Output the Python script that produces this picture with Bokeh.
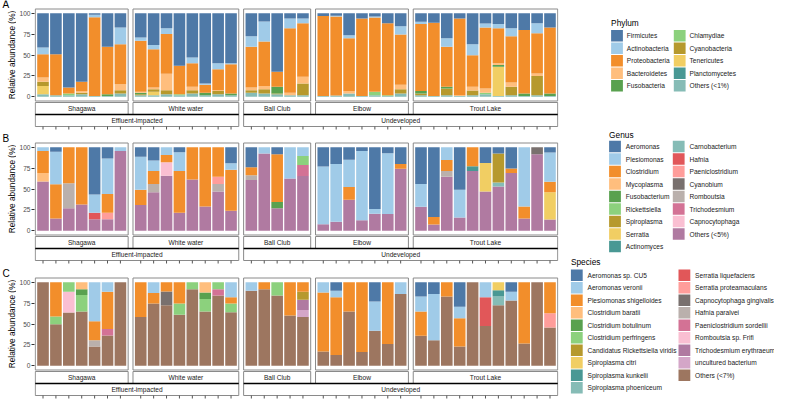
import math
from bokeh.plotting import figure
from bokeh.models import ColumnDataSource, Range1d, FixedTicker
from bokeh.layouts import row, column
from bokeh.core.properties import value
from bokeh.embed import file_html
from bokeh.resources import INLINE

FONT = "Liberation Sans"

# ---------------- facets ----------------
sites = ["Shagawa", "White water", "Ball Club", "Elbow", "Trout Lake"]
site_n = [7, 8, 5, 7, 11]
site_group = [0, 0, 1, 1, 1]
groups = ["Effluent-impacted", "Undeveloped"]

# sample order: Shagawa(7) | White water(8) | Ball Club(5) | Elbow(7) | Trout Lake(11)

# ---------------- Phylum (%) ----------------
ph_firmicutes = [41, 49, 89, 82, 2, 40, 17,
                 29, 38, 18, 63, 53, 84, 60, 60,
                 27.5, 10, 70, 6.5, 6.5,
                 3.5, 3, 26.3, 6.5, 4, 12, 15.5,
                 10.3, 11.5, 30, 6.5, 37, 12.2, 13, 18, 20, 12, 17]
ph_actinobacteria = [8, 0, 0, 0, 3, 0, 20,
                     4, 5, 7, 0, 7, 1.5, 7, 1,
                     12.5, 24, 0, 11.5, 5.5,
                     0, 1, 3.7, 0, 1.3, 0, 10,
                     2.7, 0, 10, 0, 13.4, 5, 5, 9.5, 0, 12, 0]
ph_proteobacteria = [28, 49, 7, 11, 94, 57, 48,
                     61, 46, 47.5, 34, 28, 9.5, 25, 35,
                     49, 53, 18, 77, 64,
                     95.5, 94.5, 63, 92.5, 88.7, 86, 60,
                     80, 87.5, 48, 91.5, 37.6, 72.8, 42, 55.5, 76, 48, 79]
ph_bacteroidetes = [5, 0, 0, 2, 0, 0, 7,
                    1, 2, 19.5, 0, 4, 0, 1, 0,
                    3, 4, 0, 3, 8,
                    0, 0, 3, 0, 0, 0, 5.5,
                    0, 0, 0, 1, 4.4, 5, 2, 5, 0, 3, 0]
ph_fusobacteria = [0, 0, 0, 0, 0, 2, 0,
                   2, 0, 0, 0, 0, 3, 0, 2,
                   0, 0, 8, 0, 0,
                   0, 0, 0, 0, 0, 0, 0,
                   3, 0, 2, 0, 0, 0, 2, 0, 3, 0, 3]
ph_chlamydiae = [0, 0, 2, 0, 0, 0, 0,
                 0, 0, 0, 1, 0, 0, 0, 0,
                 0, 0, 0, 0, 0,
                 0, 0, 0, 0, 4, 1, 0,
                 0, 0, 0, 0, 0, 2, 0, 0, 0, 0, 0]
ph_cyanobacteria = [5, 0, 0, 2, 0, 0, 4,
                    1, 3, 5, 0, 4, 0, 4, 0,
                    3, 5, 1, 0, 14,
                    0, 0, 0, 0, 0, 0, 5,
                    2, 0, 8, 0, 5.6, 0, 0, 10, 0, 23, 0]
ph_tenericutes = [10, 0, 0, 0, 0, 0, 0,
                  0, 4, 0, 0, 0, 0, 0, 0,
                  0, 0, 0, 0, 0,
                  0, 0, 0, 0, 0, 0, 0,
                  0, 0, 0, 0, 0, 0, 35, 0, 0, 0, 0]
ph_planctomycetes = [0, 0, 0, 0, 0, 0, 0,
                     0, 0, 0, 0, 0, 0, 0, 0,
                     0, 0, 0, 0, 0,
                     0, 0, 0, 0, 0, 0, 0,
                     0, 0, 0, 0, 0, 0, 0, 0, 0, 0, 0]
ph_others = [3, 2, 2, 3, 1, 1, 4,
             2, 2, 3, 2, 4, 2, 3, 2,
             5, 4, 3, 2, 2,
             1, 1.5, 4, 1, 2, 1, 4,
             2, 1, 2, 1, 2, 3, 1, 2, 1, 2, 1]

# ---------------- Genus (%) ----------------
ge_aeromonas = [0, 5.4, 0, 0, 56.5, 13.5, 0,
                11.5, 16, 0, 6, 0, 0, 0, 19.2,
                24, 0, 8.5, 0, 0,
                23, 20, 15, 4.6, 73.8, 7.3, 20,
                44, 83.5, 0, 51, 0, 19, 7.7, 25.4, 0, 0, 6.5]
ge_plesiomonas = [4.5, 38.8, 0, 0, 22, 42.5, 4.6,
                  39.5, 12.5, 9.2, 22.5, 0, 0, 0, 7.8,
                  0, 7.7, 0, 37.3, 10.4,
                  69, 69.2, 32.7, 82.7, 5.8, 72.7, 0,
                  27.2, 0, 15.4, 33, 0, 0, 0, 0, 70.8, 0, 34.7]
ge_clostridium = [26.5, 41.2, 43, 68.5, 0, 22.5, 0,
                  18, 15.5, 8.8, 50, 38.5, 71, 35.4, 49,
                  9.5, 0, 56.9, 0, 0,
                  0, 0, 15.3, 0, 0, 0, 5.8,
                  0, 8.8, 13.1, 0, 22.7, 0, 0, 5.6, 14.6, 0, 12.8]
ge_mycoplasma = [10, 0, 0, 0, 0, 0, 0,
                 0, 0, 0, 0, 0, 0, 0, 0,
                 0, 0, 0, 0, 0,
                 0, 0, 0, 0, 0, 0, 0,
                 0, 0, 0, 0, 0, 0, 0, 0, 0, 0, 0]
ge_fusobacterium = [0, 0, 0, 0, 0, 0, 0,
                    0, 0, 0, 0, 0, 0, 0, 0,
                    0, 0, 7.6, 0, 0,
                    0, 0, 0, 0, 0, 0, 0,
                    0, 0, 0, 0, 0, 0, 0, 0, 0, 0, 0]
ge_rickettsiella = [0, 0, 0, 0, 0, 0, 0,
                    0, 0, 0, 0, 0, 0, 0, 0,
                    0, 0, 0, 0, 10.8,
                    0, 0, 0, 0, 0, 0, 0,
                    0, 0, 0, 0, 0, 0, 0, 0, 0, 0, 0]
ge_spiroplasma = [0, 0, 0, 0, 0, 0, 0,
                  0, 0, 0, 0, 0, 0, 0, 0,
                  0, 0, 0, 0, 0,
                  0, 0, 0, 0, 0, 0, 0,
                  0, 0, 0, 0, 0, 0, 34.6, 0, 0, 0, 0]
ge_serratia = [0, 0, 0, 0, 0, 0, 0,
               0, 0, 0, 0, 0, 0, 0, 0,
               0, 0, 0, 0, 0,
               0, 0, 0, 0, 0, 0, 0,
               0, 0, 0, 0, 0, 34, 0, 0, 0, 0, 32.5]
ge_actinomyces = [0, 0, 0, 0, 0, 0, 0,
                  0, 0, 0, 0, 0, 0, 0, 0,
                  0, 0, 0, 0, 0,
                  0, 0, 0, 0, 0, 0, 0,
                  0, 0, 0, 0, 5.8, 0, 0, 0, 0, 0, 0]
ge_carnobacterium = [0, 0, 0, 0, 0, 0, 0,
                     0, 0, 0, 0, 0, 0, 0, 0,
                     0, 0, 0, 0, 0,
                     0, 0, 0, 0, 0, 0, 0,
                     0, 0, 0, 0, 0, 0, 4.7, 0, 0, 0, 0]
ge_hafnia = [0, 0, 0, 0, 7.7, 0, 0,
             0, 0, 0, 0, 0, 0, 0, 0,
             0, 0, 0, 0, 0,
             0, 0, 0, 0, 0, 0, 0,
             0, 0, 0, 0, 0, 0, 0, 0, 0, 0, 0]
ge_paeniclostridium = [0, 0, 0, 0, 0, 7.7, 0,
                       0, 0, 0, 0, 0, 0, 8.6, 0,
                       0, 0, 0, 0, 0,
                       0, 0, 0, 0, 0, 0, 0,
                       0, 0, 0, 0, 0, 0, 0, 0, 0, 0, 0]
ge_cyanobium = [0, 0, 0, 0, 0, 0, 0,
                0, 0, 0, 0, 0, 0, 0, 0,
                0, 0, 0, 0, 0,
                0, 0, 0, 0, 0, 0, 0,
                0, 0, 0, 0, 0, 0, 0, 0, 0, 8.5, 0]
ge_romboutsia = [0, 0, 30, 0, 0, 0, 0,
                 0, 10, 0, 0, 0, 0, 9, 0,
                 5.7, 0, 0, 0, 0,
                 0, 0, 0, 0, 0, 0, 0,
                 0, 0, 6.9, 0, 0, 0, 0, 0, 0, 0, 0]
ge_trichodesmium = [0, 0, 0, 0, 0, 0, 0,
                    0, 0, 0, 0, 0, 0, 0, 0,
                    0, 0, 0, 0, 13.4,
                    0, 0, 0, 0, 0, 0, 0,
                    0, 0, 0, 0, 0, 0, 0, 0, 0, 0, 0]
ge_capnocytophaga = [0, 0, 0, 0, 0, 0, 0,
                     0, 0, 16.2, 0, 0, 0, 0, 0,
                     0, 0, 0, 0, 0,
                     0, 0, 0, 0, 0, 0, 0,
                     0, 0, 0, 0, 0, 0, 0, 0, 0, 0, 0]
ge_others = [59, 14.6, 27, 31.5, 13.8, 13.8, 95.4,
             31, 46, 65.8, 21.5, 61.5, 29, 47, 24,
             60.8, 92.3, 27, 62.7, 65.4,
             8, 10.8, 37, 12.7, 20.4, 20, 74.2,
             28.8, 7.7, 64.6, 16, 71.5, 47, 53, 69, 14.6, 91.5, 13.5]

# ---------------- Species (%) ----------------
sp_aeromonas_cu5 = [0, 0, 0, 0, 0, 0, 0,
                    0, 0, 0, 0, 0, 0, 0, 0,
                    0, 0, 0, 0, 0,
                    0, 10.3, 0, 0, 23, 0, 0,
                    17, 14, 0, 29.4, 0, 0, 0, 11.5, 0, 0, 0]
sp_aeromonas_veronii = [0, 0, 0, 0, 46.6, 11.5, 0,
                        0, 13, 0, 0, 0, 0, 0, 18,
                        10.3, 0, 0, 0, 0,
                        12.2, 7.7, 0, 0, 35, 0, 14,
                        18, 55.5, 0, 13.6, 0, 18, 0, 10.5, 0, 0, 0]
sp_plesiomonas = [0, 41, 0, 0, 22.9, 44.6, 0,
                  41.6, 12.6, 11, 25.6, 0, 0, 0, 7.6,
                  0, 8.4, 0, 39.7, 11.5,
                  70.8, 69, 35, 83.6, 0, 74, 0,
                  29, 0, 17, 34, 0, 0, 0, 0, 73.3, 0, 37]
sp_c_baratii = [0, 0, 0, 8.4, 0, 0, 0,
                0, 0, 0, 0, 0, 12.2, 0, 0,
                0, 0, 0, 0, 0,
                0, 0, 0, 0, 0, 0, 0,
                0, 0, 0, 0, 0, 0, 0, 0, 0, 0, 0]
sp_c_botulinum = [0, 0, 0, 6.9, 0, 0, 0,
                  0, 0, 0, 0, 0, 7.8, 0, 0,
                  0, 0, 0, 0, 0,
                  0, 0, 0, 0, 0, 0, 0,
                  0, 0, 0, 0, 0, 0, 0, 0, 0, 0, 0]
sp_c_perfringens = [0, 9.4, 11.5, 19.7, 0, 0, 0,
                    0, 0, 0, 13.4, 8.4, 15, 8.4, 10.4,
                    0, 0, 16, 0, 0,
                    0, 0, 0, 0, 0, 0, 0,
                    0, 0, 0, 0, 0, 0, 0, 0, 0, 0, 0]
sp_rickettsiella = [0, 0, 0, 0, 0, 0, 0,
                    0, 0, 0, 0, 0, 0, 0, 0,
                    0, 0, 0, 0, 9.5,
                    0, 0, 0, 0, 0, 0, 0,
                    0, 0, 0, 0, 0, 0, 0, 0, 0, 0, 0]
sp_s_citri = [0, 0, 0, 0, 0, 0, 0,
              0, 0, 0, 0, 0, 0, 0, 0,
              0, 0, 0, 0, 0,
              0, 0, 0, 0, 0, 0, 0,
              0, 0, 0, 0, 0, 0, 9.5, 0, 0, 0, 0]
sp_s_kunkelii = [0, 0, 0, 0, 0, 0, 0,
                 0, 0, 0, 0, 0, 0, 0, 0,
                 0, 0, 0, 0, 0,
                 0, 0, 0, 0, 0, 0, 0,
                 0, 0, 0, 0, 0, 0, 7.5, 0, 0, 0, 0]
sp_s_phoeniceum = [0, 0, 0, 0, 0, 0, 0,
                   0, 0, 0, 0, 0, 0, 0, 0,
                   0, 0, 0, 0, 0,
                   0, 0, 0, 0, 0, 0, 0,
                   0, 0, 0, 0, 0, 0, 10.5, 0, 0, 0, 0]
sp_s_liquefaciens = [0, 0, 0, 0, 0, 0, 0,
                     0, 0, 0, 0, 0, 0, 0, 0,
                     0, 0, 0, 0, 0,
                     0, 0, 0, 0, 0, 0, 0,
                     0, 0, 0, 0, 0, 34.3, 0, 0, 0, 0, 0]
sp_s_proteamaculans = [0, 0, 0, 0, 0, 0, 0,
                       0, 0, 0, 0, 0, 0, 0, 0,
                       0, 0, 0, 0, 0,
                       0, 0, 0, 0, 0, 0, 0,
                       0, 0, 0, 0, 0, 0, 0, 0, 0, 0, 17.2]
sp_capnocytophaga = [0, 0, 0, 0, 0, 0, 0,
                     0, 0, 16.5, 0, 0, 0, 0, 0,
                     0, 0, 0, 0, 0,
                     0, 0, 0, 0, 0, 0, 0,
                     0, 0, 0, 0, 0, 0, 0, 0, 0, 0, 0]
sp_hafnia = [0, 0, 0, 0, 7.5, 0, 0,
             0, 0, 0, 0, 0, 0, 0, 0,
             0, 0, 0, 0, 0,
             0, 0, 0, 0, 0, 0, 0,
             0, 0, 0, 0, 0, 0, 0, 0, 0, 0, 0]
sp_paeniclostridium = [0, 0, 0, 0, 0, 7.6, 0,
                       0, 0, 0, 0, 0, 0, 7.6, 0,
                       0, 0, 0, 0, 0,
                       0, 0, 0, 0, 0, 0, 0,
                       0, 0, 0, 0, 0, 0, 0, 0, 0, 0, 0]
sp_romboutsia = [0, 0, 24.8, 0, 0, 0, 0,
                 0, 0, 0, 0, 0, 0, 0, 0,
                 0, 0, 0, 0, 0,
                 0, 0, 0, 0, 0, 0, 0,
                 0, 0, 0, 0, 0, 0, 0, 0, 0, 0, 0]
sp_trichodesmium = [0, 0, 0, 0, 0, 0, 0,
                    0, 0, 0, 0, 0, 0, 0, 0,
                    0, 0, 0, 0, 12.2,
                    0, 0, 0, 0, 0, 0, 0,
                    0, 0, 0, 0, 0, 0, 0, 0, 0, 0, 0]
sp_uncultured = [0, 0, 0, 0, 0, 0, 0,
                 0, 0, 0, 0, 0, 0, 0, 0,
                 0, 0, 0, 0, 8.4,
                 0, 0, 0, 0, 0, 0, 0,
                 0, 0, 0, 0, 0, 0, 0, 0, 0, 0, 0]
sp_others = [100, 49.6, 63.7, 65, 23, 36.3, 100,
             58.4, 74.4, 72.5, 61, 91.6, 65, 84, 64,
             89.7, 91.6, 84, 60.3, 58.4,
             17, 13, 65, 16.4, 42, 26, 86,
             36, 30.5, 83, 23, 100, 47.7, 72.5, 78, 26.7, 100, 45.8]

PAL = ["#4E79A7", "#A0CBE8", "#F28E2B", "#FFBE7D", "#59A14F", "#8CD17D", "#B6992D",
       "#F1CE63", "#499894", "#86BCB6", "#E15759", "#FF9D9A", "#79706E", "#BAB0AC",
       "#D37295", "#FABFD2", "#B07AA1", "#D4A6C8", "#9D7660"]

phylum_names = ["Firmicutes", "Actinobacteria", "Proteobacteria", "Bacteroidetes", "Fusobacteria",
                "Chlamydiae", "Cyanobacteria", "Tenericutes", "Planctomycetes", "Others (<1%)"]
phylum_vals = [ph_firmicutes, ph_actinobacteria, ph_proteobacteria, ph_bacteroidetes, ph_fusobacteria,
               ph_chlamydiae, ph_cyanobacteria, ph_tenericutes, ph_planctomycetes, ph_others]
phylum_cols = PAL[:10]

genus_names = ["Aeromonas", "Plesiomonas", "Clostridium", "Mycoplasma", "Fusobacterium",
               "Rickettsiella", "Spiroplasma", "Serratia", "Actinomyces", "Carnobacterium",
               "Hafnia", "Paeniclostridium", "Cyanobium", "Romboutsia", "Trichodesmium",
               "Capnocytophaga", "Others (<5%)"]
genus_vals = [ge_aeromonas, ge_plesiomonas, ge_clostridium, ge_mycoplasma, ge_fusobacterium,
              ge_rickettsiella, ge_spiroplasma, ge_serratia, ge_actinomyces, ge_carnobacterium,
              ge_hafnia, ge_paeniclostridium, ge_cyanobium, ge_romboutsia, ge_trichodesmium,
              ge_capnocytophaga, ge_others]
genus_cols = PAL[:17]

species_names = ["Aeromonas sp. CU5", "Aeromonas veronii", "Plesiomonas shigelloides",
                 "Clostridium baratii", "Clostridium botulinum", "Clostridium perfringens",
                 "Candidatus Rickettsiella viridis", "Spiroplasma citri", "Spiroplasma kunkelii",
                 "Spiroplasma phoeniceum", "Serratia liquefaciens", "Serratia proteamaculans",
                 "Capnocytophaga gingivalis", "Hafnia paralvei", "Paeniclostridium sordellii",
                 "Romboutsia sp. Frifi", "Trichodesmium erythraeum", "uncultured bacterium",
                 "Others (<7%)"]
species_vals = [sp_aeromonas_cu5, sp_aeromonas_veronii, sp_plesiomonas, sp_c_baratii,
                sp_c_botulinum, sp_c_perfringens, sp_rickettsiella, sp_s_citri, sp_s_kunkelii,
                sp_s_phoeniceum, sp_s_liquefaciens, sp_s_proteamaculans, sp_capnocytophaga,
                sp_hafnia, sp_paeniclostridium, sp_romboutsia, sp_trichodesmium, sp_uncultured,
                sp_others]
species_cols = PAL[:19]

# ---------------- layout geometry ----------------
GAP = 0.375
xs = []
panels = []
off = 0.0
for n in site_n:
    xs += [off + j for j in range(1, n + 1)]
    panels.append((off + 0.4, off + n + 0.6))
    off += n + 0.2 + GAP
X0 = panels[0][0] - 0.06
X1 = panels[-1][1] + 0.06

FW = 524
PANEL_PX = 92
PB, PT = -5, 105
PXY = PANEL_PX / (PT - PB)          # pixels per data unit (y)
YMAX = PT + 0.5 / PXY
S1T = PB - 1.5 / PXY
S1B = S1T - 12 / PXY
S2B = S1B - 12 / PXY
YMIN = S2B - 3 / PXY
FH = int(round((YMAX - YMIN) * PXY))

SIDE_W = 16
TXT = "#1A1A1A"
GREY = "#8A8A8A"


def blank_fig(**kw):
    f = figure(title=None, output_backend="svg", toolbar_location=None, min_border=0,
               outline_line_color=None, x_axis_location=None, y_axis_location=None,
               background_fill_color="white", border_fill_color="white", **kw)
    f.xgrid.visible = False
    f.ygrid.visible = False
    return f


def make_row(letter, vals, cols, top_b, bot_b):
    row_h = top_b + FH + bot_b
    # the frame spans the whole row height; the panel occupies its data range
    p = figure(title=None, frame_width=FW, frame_height=row_h, x_range=Range1d(X0, X1),
               y_range=Range1d(YMIN - bot_b / PXY, YMAX + top_b / PXY), output_backend="svg",
               toolbar_location=None, min_border_left=16, min_border_right=4, min_border_top=0,
               min_border_bottom=0, outline_line_color=None, x_axis_location=None,
               background_fill_color="white", border_fill_color="white")
    p.xgrid.visible = False
    p.ygrid.visible = False

    bottoms = [0.0] * len(xs)
    for v, c in zip(reversed(vals), reversed(cols)):
        tops = [b + a for b, a in zip(bottoms, v)]
        src = ColumnDataSource(dict(x=xs, bottom=bottoms, top=tops))
        p.vbar(x="x", width=0.9, bottom="bottom", top="top", source=src,
               fill_color=c, line_color=None)
        bottoms = tops

    lefts = [a for a, b in panels]
    rights = [b for a, b in panels]
    centers = [(a + b) / 2 for a, b in panels]
    p.quad(left=lefts, right=rights, bottom=PB, top=PT, fill_color=None,
           line_color=GREY, line_width=1)
    p.quad(left=lefts, right=rights, bottom=S1B, top=S1T, fill_color="white",
           line_color=GREY, line_width=1)
    p.text(x=centers, y=(S1B + S1T) / 2, text=sites, text_align="center", text_baseline="middle",
           text_font=value(FONT), text_font_size="6.6px", text_color=TXT)

    gl, gr = [], []
    for g in range(len(groups)):
        mem = [i for i in range(len(sites)) if site_group[i] == g]
        gl.append(panels[mem[0]][0])
        gr.append(panels[mem[-1]][1])
    p.quad(left=gl, right=gr, bottom=S2B, top=S1B, fill_color="white",
           line_color=GREY, line_width=1)
    p.segment(x0=gl, x1=gr, y0=S1B, y1=S1B, line_color="black", line_width=1.3)
    p.text(x=[(a + b) / 2 for a, b in zip(gl, gr)], y=(S2B + S1B) / 2, text=groups,
           text_align="center", text_baseline="middle", text_font=value(FONT),
           text_font_size="6.6px", text_color=TXT)

    # sample ticks under the nested strips
    p.segment(x0=xs, x1=xs, y0=S2B, y1=YMIN, line_color="#555555", line_width=1)

    ya = p.yaxis[0]
    ya.ticker = FixedTicker(ticks=[0, 25, 50, 75, 100])
    ya.major_label_text_font = FONT
    ya.major_label_text_font_size = "6.6px"
    ya.major_label_text_color = "#4D4D4D"
    ya.major_label_standoff = 1
    ya.major_tick_out = 3
    ya.major_tick_in = 0
    ya.major_tick_line_color = "#333333"
    ya.minor_tick_line_color = None
    ya.axis_line_color = None

    # side strip (pixel coordinates, y downward) with panel letter and y-axis title
    s = blank_fig(width=SIDE_W, height=row_h, x_range=Range1d(0, SIDE_W),
                  y_range=Range1d(row_h, 0))
    title_y = top_b + (YMAX - (PB + PT) / 2) * PXY
    s.text(x=[11.0], y=[title_y], text=["Relative abundance (%)"], angle=math.pi / 2,
           text_align="center", text_baseline="middle", text_font=value(FONT),
           text_font_size="8.3px", text_color="black")
    s.text(x=[2.0], y=[top_b - 4.0], text=[letter], text_align="left",
           text_baseline="middle", text_font=value(FONT), text_font_size="10px", text_color="black")
    return row(s, p)


rA = make_row("A", phylum_vals, phylum_cols, 8, 4)
rB = make_row("B", genus_vals, genus_cols, 9, 4)
rC = make_row("C", species_vals, species_cols, 10, 1)

# ---------------- legends (pixel coordinates, y downward) ----------------
LW, LH = 212, 399
lp = blank_fig(width=LW, height=LH, x_range=Range1d(0, LW), y_range=Range1d(LH, 0))

KEY_W, KEY_H, PITCH = 11.8, 11.5, 12.5


def draw_legend(title, names, cols, title_top, key_top, col_x, label_dx):
    n = len(names)
    nrows = int(math.ceil(n / 2))
    lefts = [col_x[i // nrows] for i in range(n)]
    tops = [key_top + (i % nrows) * PITCH for i in range(n)]
    # colour keys drawn as thick butt-capped strokes
    lp.segment(x0=lefts, x1=[l + KEY_W for l in lefts],
               y0=[t + KEY_H / 2 for t in tops], y1=[t + KEY_H / 2 for t in tops],
               line_color=cols, line_width=KEY_H, line_cap="butt")
    lp.text(x=[col_x[0]], y=[title_top], text=[title], text_align="left", text_baseline="top",
            text_font=value(FONT), text_font_size="8.3px", text_color="black")
    lp.text(x=[l + label_dx for l in lefts], y=[t + KEY_H / 2 for t in tops], text=names,
            text_align="left", text_baseline="middle", text_font=value(FONT),
            text_font_size="6.6px", text_color=TXT)


draw_legend("Phylum", phylum_names, phylum_cols, 17.8, 29.5, [48.6, 111.3], 15.7)
draw_legend("Genus", genus_names, genus_cols, 129.3, 140.3, [46.6, 110.3], 16.7)
draw_legend("Species", species_names, species_cols, 256.4, 269.0, [8.4, 116.0], 16.6)

layout = row(column(rA, rB, rC), lp)

open("out.html", "w").write(file_html(layout, INLINE))
